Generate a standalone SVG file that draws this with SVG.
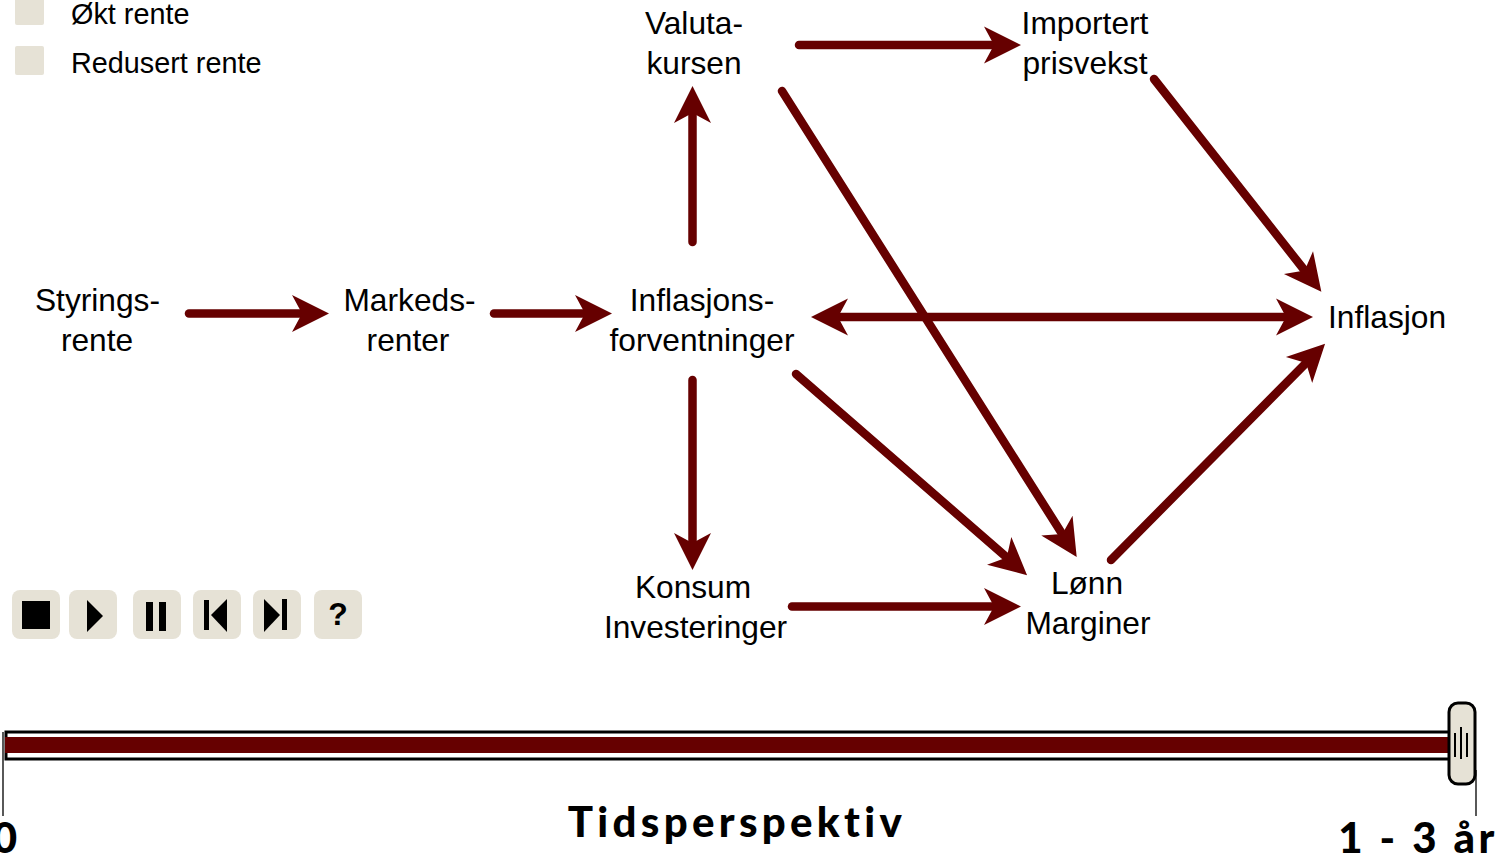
<svg xmlns="http://www.w3.org/2000/svg" width="1501" height="856" viewBox="0 0 1501 856">
<style>
.t{font-family:"Liberation Sans",Arial,sans-serif;font-size:31.7px;fill:#000;text-anchor:middle}
.l{text-anchor:start;font-size:28.8px}
.b{font-family:Lato,"Open Sans",sans-serif;font-weight:900;font-size:42px;fill:#000;text-anchor:middle}
.c{fill:none;stroke:#660000;stroke-width:8.5;stroke-linecap:round;marker-end:url(#ah)}
.btn{fill:#e6e2d6}
</style>
<defs>
<marker id="ah" markerUnits="userSpaceOnUse" markerWidth="60" markerHeight="60" viewBox="-30 -30 60 60" refX="0" refY="0" orient="auto-start-reverse"><path d="M20,0L-17,-18.5L-7,0L-17,18.5Z" fill="#660000"/></marker>
</defs>
<g id="legend">
<rect class="btn" x="15" y="-4" width="29" height="29" rx="2"/>
<rect class="btn" x="15" y="46" width="29" height="29" rx="2"/>
<text class="t l" x="71" y="24">Økt rente</text>
<text class="t l" x="71" y="73">Redusert rente</text>
</g>
<g id="connectors">
<path class="c" d="M189,313.500H309"/>
<path class="c" d="M494,313.500H592"/>
<path class="c" d="M692.500,242V106"/>
<path class="c" d="M799,45H1001"/>
<path class="c" d="M1154,79L1309,276"/>
<path class="c" d="M782,91L1066,540"/>
<path class="c" d="M831,317H1293" style="marker-start:url(#ah)"/>
<path class="c" d="M796,374L1012,562"/>
<path class="c" d="M692.500,380V550"/>
<path class="c" d="M792,606.500H1001"/>
<path class="c" d="M1111,560L1311,358"/>
</g>
<g id="styringsrente"><text class="t" x="97.500" y="311">Styrings-</text><text class="t" x="97" y="351">rente</text></g>
<g id="markedsrenter"><text class="t" x="409.500" y="311">Markeds-</text><text class="t" x="408" y="351">renter</text></g>
<g id="inflasjonsforventninger"><text class="t" x="702" y="311">Inflasjons-</text><text class="t" x="702" y="351">forventninger</text></g>
<g id="valutakursen"><text class="t" x="694" y="34">Valuta-</text><text class="t" x="694" y="74">kursen</text></g>
<g id="importert"><text class="t" x="1085" y="34">Importert</text><text class="t" x="1085" y="74">prisvekst</text></g>
<g id="inflasjon"><text class="t" x="1387" y="328">Inflasjon</text></g>
<g id="konsum"><text class="t" x="693" y="598">Konsum</text><text class="t" x="695.500" y="638">Investeringer</text></g>
<g id="lonn"><text class="t" x="1087" y="594">Lønn</text><text class="t" x="1088" y="634">Marginer</text></g>
<g id="controls">
<rect class="btn" x="12" y="590" width="48" height="49" rx="8"/>
<rect x="22" y="601" width="28" height="28"/>
<rect class="btn" x="69" y="590" width="48" height="49" rx="8"/>
<path d="M87,600L103,616L87,632Z"/>
<rect class="btn" x="133" y="590" width="48" height="49" rx="8"/>
<rect x="146" y="602" width="7" height="29"/><rect x="159" y="602" width="7" height="29"/>
<rect class="btn" x="193" y="590" width="48" height="49" rx="8"/>
<rect x="204" y="600" width="5" height="30"/><path d="M227,599V632L211,615Z"/>
<rect class="btn" x="253" y="590" width="48" height="49" rx="8"/>
<path d="M264,599V632L280,615Z"/><rect x="282" y="599" width="5" height="31"/>
<rect class="btn" x="314" y="590" width="48" height="49" rx="8"/>
<text x="338" y="625" style="font-family:'Liberation Sans',sans-serif;font-weight:700;font-size:32px;text-anchor:middle">?</text>
</g>
<g id="timeline">
<path d="M3,732V816M1476,770V816" stroke="#000" stroke-width="1.3" fill="none"/>
<rect x="6" y="732" width="1450" height="27" fill="#fff" stroke="#000" stroke-width="3"/>
<rect x="5" y="737" width="1450" height="16" fill="#660000"/>
<rect x="1449" y="703" width="26" height="81" rx="9" fill="#e6e2d6" stroke="#000" stroke-width="3"/>
<path d="M1455,733V757M1461,727V759M1467,733V757" stroke="#000" stroke-width="2" fill="none"/>
<text class="b" x="737" y="837" letter-spacing="4.3">Tidsperspektiv</text>
<text class="b" x="5" y="853">0</text>
<text class="b" x="1418" y="853" letter-spacing="3.5" xml:space="preserve">1 - 3 år</text>
</g>
</svg>
